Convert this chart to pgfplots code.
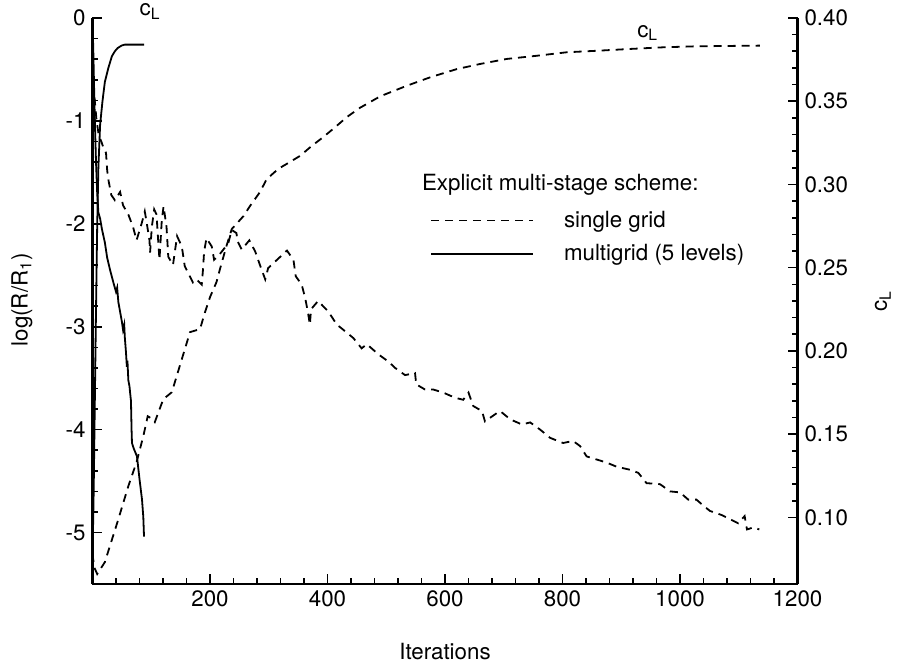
\documentclass[border=0pt]{standalone}
\usepackage{fontspec}
\setmainfont{TeX Gyre Heros}
\usepackage{pgfplots}
\pgfplotsset{compat=1.18}

% residual, single grid (left axis)
\pgfplotstableread{
x y
0 -0.50
3 -0.75
7 -1.00
11 -1.15
15 -1.20
18 -1.25
23 -1.31
25 -1.48
27 -1.57
32 -1.72
38 -1.77
47 -1.69
52 -1.82
61 -1.91
69 -2.03
75 -2.16
84 -1.99
89 -1.88
92 -1.98
97 -2.16
98 -2.28
101 -2.03
105 -1.86
109 -1.91
112 -2.18
114 -2.35
118 -1.96
121 -1.83
126 -2.03
129 -2.32
137 -2.40
144 -2.12
152 -2.22
157 -2.41
163 -2.48
171 -2.57
177 -2.54
186 -2.59
188 -2.45
190 -2.27
194 -2.14
203 -2.22
207 -2.35
216 -2.30
220 -2.27
231 -2.19
237 -2.06
245 -2.09
247 -2.17
254 -2.25
267 -2.16
277 -2.27
285 -2.40
294 -2.54
299 -2.43
314 -2.35
331 -2.26
342 -2.35
346 -2.51
356 -2.59
362 -2.72
367 -2.87
370 -2.98
372 -2.83
384 -2.75
401 -2.85
416 -2.98
427 -3.03
444 -3.11
458 -3.21
467 -3.17
487 -3.27
504 -3.34
515 -3.40
532 -3.47
549 -3.45
551 -3.56
566 -3.61
580 -3.61
597 -3.64
617 -3.69
631 -3.71
640 -3.64
648 -3.77
663 -3.82
668 -3.92
688 -3.84
694 -3.82
711 -3.90
731 -3.95
745 -3.93
762 -4.00
779 -4.08
801 -4.13
818 -4.11
830 -4.16
841 -4.26
858 -4.29
875 -4.32
892 -4.36
915 -4.39
929 -4.42
943 -4.52
966 -4.53
983 -4.60
1000 -4.61
1014 -4.68
1028 -4.68
1040 -4.74
1051 -4.79
1071 -4.83
1085 -4.87
1099 -4.91
1110 -4.84
1114 -4.97
1125 -4.95
1135 -4.97
}\singleres

% residual, multigrid (left axis)
\pgfplotstableread{
x y
0 0
1.5 -0.35
3 -0.75
4.5 -1.10
6 -1.40
8 -1.70
10 -1.89
13 -1.95
16 -2.05
21 -2.18
25 -2.33
30 -2.45
36 -2.58
40 -2.66
42 -2.62
44 -2.76
50 -2.95
52 -3.03
54 -2.98
55 -3.10
57 -3.25
58.5 -3.39
59.5 -3.33
61 -3.52
63 -3.58
64 -3.64
65.5 -3.72
66.5 -4.00
67.2 -4.13
70 -4.18
75.7 -4.26
80 -4.48
84.3 -4.68
86.5 -4.85
87.7 -5.04
}\multires

% lift coefficient, single grid (right axis)
\pgfplotstableread{
x y
0 0.078
3 0.070
8 0.066
10 0.0671
21 0.0731
44 0.0989
61 0.1188
75 0.1332
86.5 0.1488
94 0.1608
100 0.1595
106 0.1572
120.5 0.1710
135 0.1752
152 0.1950
166 0.2113
183 0.2131
191.5 0.2233
200 0.2323
211 0.2413
217 0.2492
228 0.2630
237 0.2732
257 0.2810
268 0.2870
285 0.2954
296.5 0.3032
316 0.3093
336 0.3135
353 0.3171
373 0.3231
393 0.3285
415 0.3350
433 0.3405
455 0.3460
490 0.3530
535 0.3593
575 0.3644
620 0.3693
660 0.3724
705 0.3754
756 0.3773
807 0.3794
858 0.3803
915 0.3814
972 0.3824
1028 0.3830
1136 0.3834
}\singlecl

% lift coefficient, multigrid (right axis)
\pgfplotstableread{
x y
0 0.075
2 0.115
4 0.170
6 0.225
8 0.275
10 0.310
13 0.336
17 0.350
21 0.3615
27 0.370
33 0.377
38 0.380
43 0.382
50 0.3835
55 0.384
88 0.384
}\multicl

\newcommand{\lbl}{\fontsize{11.2}{13}\selectfont}

\pgfplotsset{
  base/.style={
    scale only axis, width=352.5bp, height=283bp,
    xmin=0, xmax=1200,
    tick align=inside,
    major tick length=5bp, minor tick length=3bp,
    every tick/.style={black, line width=0.8bp},
    axis line style={line width=1.2bp},
    /pgf/number format/assume math mode=true,
    tick label style={font=\lbl},
    label style={font=\lbl},
    clip=false,
  },
  sg/.style={black, line width=0.9bp, dash pattern=on 4bp off 3bp},
  mg/.style={black, line width=0.9bp},
}

\begin{document}
\begin{tikzpicture}
\begin{axis}[base,
  axis x line*=bottom, axis y line*=left,
  ymin=-5.5, ymax=0,
  ytick={-5,-4,-3,-2,-1,0},
  minor y tick num=4,
  xtick={0,200,...,1200},
  xticklabels={,200,400,600,800,1000,1200},
  minor x tick num=4,
  xlabel={Iterations},
  ylabel={log(R/R\textsubscript{1})},
  xlabel style={at={(axis description cs:0.5,-0.12)}, anchor=center},
  ylabel style={at={(axis description cs:-0.10,0.502)}, anchor=center},
  legend style={draw=none, fill=none, at={(axis description cs:0.470,0.674)},
    anchor=north west, row sep=3bp, font=\lbl,
    /tikz/every odd column/.style={column sep=13bp}},
  legend cell align=left,
  legend image code/.code={\draw[#1] (0bp,0bp) -- (51bp,0bp);},
]
\addplot[sg] table {\singleres};
\addlegendentry{single grid}
\addplot[mg] table {\multires};
\addlegendentry{multigrid (5 levels)}
\node[anchor=west, font=\lbl] at (axis cs:549,-1.62) {Explicit multi-stage scheme:};
\node[font=\lbl] at (axis cs:98,0.06) {c\textsubscript{L}};
\node[font=\lbl] at (axis cs:945,-0.146) {c\textsubscript{L}};
\coordinate (bbA) at (rel axis cs:-0.1312,-0.1413);
\coordinate (bbB) at (rel axis cs:1.1468,1.0318);
\end{axis}
\begin{axis}[base,
  axis y line*=right, axis x line=none,
  ymin=0.06, ymax=0.40,
  ytick={0.10,0.15,0.20,0.25,0.30,0.35,0.40},
  minor y tick num=4,
  y tick label style={/pgf/number format/.cd, fixed, fixed zerofill, precision=2, /tikz/.cd},
  ylabel={c\textsubscript{L}},
  ylabel style={at={(axis description cs:1.121,0.50)}, anchor=center},
]
\addplot[sg] table {\singlecl};
\addplot[mg] table {\multicl};
\end{axis}
\pgfresetboundingbox
\useasboundingbox (bbA) rectangle (bbB);
\end{tikzpicture}
\end{document}
